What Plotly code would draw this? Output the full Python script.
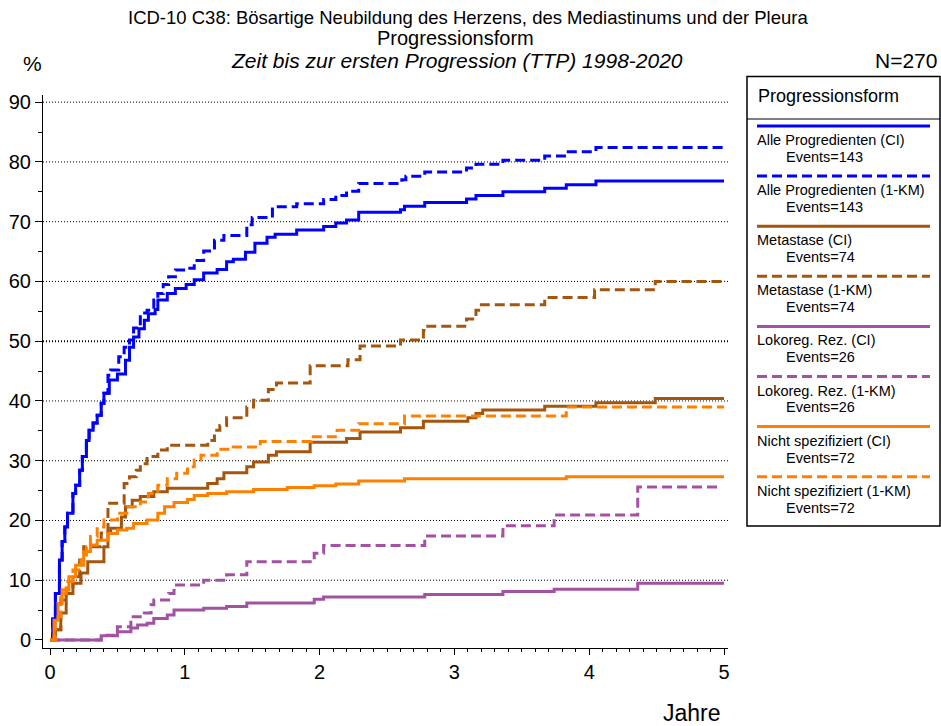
import plotly.graph_objects as go

# ---------------- data ----------------
all_ci_t = [0, 0.02, 0.04, 0.07, 0.09, 0.11, 0.13, 0.17, 0.19, 0.22, 0.24, 0.27, 0.29, 0.32, 0.35, 0.38,
            0.40, 0.44, 0.50, 0.56, 0.59, 0.62, 0.66, 0.70, 0.73, 0.78, 0.80, 0.87, 0.93, 1.01, 1.07, 1.14,
            1.24, 1.31, 1.36, 1.45, 1.52, 1.61, 1.67, 1.83, 2.03, 2.12, 2.20, 2.29, 2.60, 2.63, 2.78, 3.09,
            3.16, 3.36, 3.67, 3.83, 4.05, 5.0]
all_ci_y = [0, 3.5, 7.8, 13.4, 16.5, 18.9, 21.2, 24.5, 25.9, 28.4, 30.7, 33.4, 35.1, 36.3, 37.6, 39.6,
            41.3, 43.5, 44.5, 46.8, 49.0, 50.7, 52.1, 53.5, 54.6, 55.3, 56.9, 58.0, 58.8, 59.5, 60.3, 61.4,
            62.0, 63.3, 63.7, 64.9, 66.4, 67.4, 67.9, 68.6, 69.2, 69.8, 70.3, 71.6, 72.0, 72.6, 73.2, 73.8,
            74.4, 75.0, 75.6, 76.2, 76.8, 76.8]

all_km_t = [0, 0.02, 0.04, 0.07, 0.09, 0.11, 0.13, 0.17, 0.19, 0.22, 0.24, 0.27, 0.29, 0.32, 0.35, 0.38,
            0.40, 0.43, 0.45, 0.51, 0.55, 0.59, 0.62, 0.67, 0.72, 0.77, 0.80, 0.84, 0.88, 0.93, 1.01, 1.07,
            1.14, 1.22, 1.29, 1.46, 1.50, 1.65, 1.83, 2.03, 2.12, 2.20, 2.29, 2.61, 2.64, 2.78, 3.09, 3.16,
            3.36, 3.67, 3.83, 4.05, 5.0]
all_km_y = [0, 3.5, 7.8, 13.4, 16.5, 18.9, 21.2, 24.5, 25.9, 28.4, 30.7, 33.4, 35.1, 36.3, 37.6, 39.6,
            41.3, 44.3, 45.2, 47.4, 49.0, 50.2, 52.2, 54.7, 55.2, 56.9, 58.0, 59.5, 60.8, 61.9, 62.2, 63.5,
            65.1, 66.9, 67.7, 69.5, 70.7, 72.5, 73.0, 73.7, 74.4, 75.1, 76.4, 77.0, 77.6, 78.3, 79.0, 79.6,
            80.3, 81.0, 81.7, 82.4, 82.4]

met_ci_t = [0, 0.04, 0.08, 0.12, 0.17, 0.23, 0.28, 0.40, 0.43, 0.45, 0.53, 0.56, 0.61, 0.67, 0.77, 0.87,
            1.17, 1.24, 1.29, 1.46, 1.51, 1.62, 1.68, 1.93, 2.20, 2.30, 2.60, 2.77, 3.10, 3.16, 3.21, 3.67,
            4.05, 4.49, 5.0]
met_ci_y = [0, 1.7, 4.5, 7.8, 9.5, 11.2, 13.1, 15.6, 17.8, 18.7, 20.6, 22.3, 23.4, 24.0, 24.8, 25.4,
            26.2, 27.0, 28.0, 29.0, 29.8, 30.9, 31.5, 33.1, 33.7, 34.8, 35.5, 36.6, 37.2, 37.9, 38.5, 39.1,
            39.7, 40.4, 40.4]

met_km_t = [0, 0.03, 0.08, 0.12, 0.17, 0.22, 0.25, 0.38, 0.43, 0.55, 0.59, 0.64, 0.67, 0.72, 0.80, 0.87,
            1.17, 1.22, 1.26, 1.31, 1.46, 1.51, 1.62, 1.68, 1.93, 2.21, 2.30, 2.60, 2.77, 2.79, 3.09, 3.16,
            3.20, 3.67, 4.04, 4.49, 5.0]
met_km_y = [0, 1.7, 6.7, 8.4, 10.6, 13.4, 15.6, 17.9, 22.9, 26.2, 27.3, 28.4, 29.5, 30.7, 31.8, 32.6,
            33.4, 35.1, 35.9, 37.2, 39.0, 40.1, 41.9, 43.0, 45.9, 46.9, 49.2, 50.2, 51.8, 52.5, 53.7, 55.2,
            56.1, 57.3, 58.6, 60.0, 60.0]

lok_ci_t = [0, 0.38, 0.50, 0.60, 0.65, 0.72, 0.77, 0.87, 0.92, 1.14, 1.31, 1.46, 1.96, 2.03, 2.78, 3.36,
            3.74, 4.36, 5.0]
lok_ci_y = [0, 0.7, 1.4, 2.0, 2.5, 2.8, 3.6, 4.2, 5.0, 5.3, 5.6, 6.2, 6.8, 7.2, 7.6, 8.1,
            8.5, 9.5, 9.5]

lok_km_t = [0, 0.38, 0.50, 0.60, 0.70, 0.75, 0.77, 0.88, 0.92, 1.14, 1.31, 1.46, 1.96, 2.03, 2.78, 3.36,
            3.74, 4.36, 4.96]
lok_km_y = [0, 0.8, 2.2, 3.9, 4.5, 5.9, 6.7, 7.8, 9.2, 10.0, 10.9, 13.1, 14.5, 15.8, 17.4, 19.1,
            20.9, 25.6, 25.6]

ns_ci_t = [0, 0.03, 0.06, 0.09, 0.14, 0.19, 0.25, 0.30, 0.35, 0.43, 0.50, 0.57, 0.62, 0.72, 0.80, 0.85,
           0.92, 1.02, 1.07, 1.17, 1.31, 1.51, 1.76, 1.96, 2.12, 2.29, 2.63, 3.83, 5.0]
ns_ci_y = [0, 3.3, 6.1, 8.4, 10.6, 12.5, 14.8, 15.9, 16.7, 17.8, 18.4, 18.7, 19.5, 20.1, 21.2, 22.3,
           23.0, 23.5, 24.2, 24.5, 24.8, 25.2, 25.5, 25.8, 26.1, 26.6, 27.0, 27.3, 27.3]

ns_km_t = [0, 0.04, 0.08, 0.12, 0.17, 0.23, 0.27, 0.30, 0.35, 0.40, 0.50, 0.57, 0.67, 0.73, 0.80, 0.87,
           0.94, 1.02, 1.07, 1.12, 1.24, 1.36, 1.56, 1.94, 2.13, 2.29, 2.63, 3.83, 5.0]
ns_km_y = [0, 3.9, 7.8, 9.8, 11.7, 13.4, 15.6, 17.3, 18.9, 20.1, 21.2, 22.3, 23.1, 24.5, 25.9, 27.0,
           27.9, 29.0, 30.1, 30.9, 31.9, 32.3, 33.2, 34.0, 35.1, 36.2, 37.5, 39.0, 39.0]

series_names = ["Alle Progredienten (CI)", "Alle Progredienten (1-KM)", "Metastase (CI)", "Metastase (1-KM)",
                "Lokoreg. Rez. (CI)", "Lokoreg. Rez. (1-KM)", "Nicht spezifiziert (CI)",
                "Nicht spezifiziert (1-KM)"]
series_events = [143, 143, 74, 74, 26, 26, 72, 72]

x_ticks = [0, 1, 2, 3, 4, 5]
y_ticks = [0, 10, 20, 30, 40, 50, 60, 70, 80, 90]
grid_levels = [10, 20, 30, 40, 50, 60, 70, 80, 90]

title_lines = ["ICD-10 C38: Bösartige Neubildung des Herzens, des Mediastinums und der Pleura",
               "Progressionsform",
               "<i>Zeit bis zur ersten Progression (TTP) 1998-2020</i>"]
n_text = "N=270"

# ---------------- styling ----------------
BLUE = "#0000FF"
BROWN = "#A5560E"
PURPLE = "#A352A3"
ORANGE = "#FF8000"
colors = [BLUE, BLUE, BROWN, BROWN, PURPLE, PURPLE, ORANGE, ORANGE]
dashes = ["solid", "10px,5px"] * 4
FONT = "Liberation Sans, Arial, sans-serif"

W, H = 941, 726
L, R, T, B = 43, 728, 95, 648  # plot area in pixels


def px(x):
    return (x - L) / (R - L)


def py(y):
    return (B - y) / (B - T)


xs = [all_ci_t, all_km_t, met_ci_t, met_km_t, lok_ci_t, lok_km_t, ns_ci_t, ns_km_t]
ys = [all_ci_y, all_km_y, met_ci_y, met_km_y, lok_ci_y, lok_km_y, ns_ci_y, ns_km_y]

fig = go.Figure()
for i in range(8):
    fig.add_trace(go.Scatter(x=xs[i], y=ys[i], mode="lines", line_shape="hv", name=series_names[i],
                             line=dict(color=colors[i], width=3, dash=dashes[i]), showlegend=False))

for g in grid_levels:
    fig.add_hline(y=g, line=dict(color="black", width=2 if g == 50 else 1, dash="1px,2px"), layer="below")

x0 = 0 - 7 / 134.8
x1 = 5 + 4 / 134.8
fig.update_xaxes(range=[x0, x1], tickvals=x_ticks, ticktext=[str(v) for v in x_ticks],
                 showline=True, linecolor="black", linewidth=1, ticks="outside", ticklen=6,
                 tickcolor="black", showgrid=False, zeroline=False, automargin=False,
                 tickfont=dict(family=FONT, size=20, color="black"),
                 minor=dict(ticks="outside", dtick=0.1, tick0=0, ticklen=3, tickcolor="black", showgrid=False))
fig.update_yaxes(range=[-1.34, 91.2], tickvals=y_ticks, ticktext=[str(v) for v in y_ticks],
                 showline=True, linecolor="black", linewidth=1, ticks="outside", ticklen=7,
                 tickcolor="black", showgrid=False, zeroline=False, automargin=False,
                 tickfont=dict(family=FONT, size=20, color="black"),
                 minor=dict(ticks="outside", dtick=5, tick0=0, ticklen=4, tickcolor="black", showgrid=False))


def note(text, x, y, size, xanchor="center"):
    fig.add_annotation(text=text, x=px(x), y=py(y), xref="paper", yref="paper", showarrow=False,
                       xanchor=xanchor, yanchor="middle", borderpad=0,
                       font=dict(family=FONT, size=size, color="black"))


note(title_lines[0], 468, 17, 18.5)
note(title_lines[1], 456, 38, 20)
note(title_lines[2], 457, 60, 21)
note("%", 32, 63, 21)
note(n_text, 938, 60, 21, xanchor="right")
note("Jahre", 692, 713, 23)

# custom legend box
fig.add_shape(type="rect", xref="paper", yref="paper", x0=px(747), x1=px(940), y0=py(526), y1=py(76.5),
              line=dict(color="black", width=1.5), fillcolor="rgba(0,0,0,0)")
fig.add_shape(type="line", xref="paper", yref="paper", x0=px(747), x1=px(940), y0=py(119), y1=py(119),
              line=dict(color="black", width=1))
note("Progressionsform", 757, 96, 18, xanchor="left")
for i in range(8):
    ly = 126 + 50.1 * i
    fig.add_shape(type="line", xref="paper", yref="paper", x0=px(757), x1=px(930), y0=py(ly), y1=py(ly),
                  line=dict(color=colors[i], width=3, dash=dashes[i]))
    note(series_names[i], 756, ly + 14, 14.5, xanchor="left")
    note("Events=%d" % series_events[i], 785, ly + 31, 14.5, xanchor="left")

fig.update_layout(width=W, height=H, margin=dict(l=L, r=W - R, t=T, b=H - B, pad=0, autoexpand=False),
                  paper_bgcolor="white", plot_bgcolor="white",
                  font=dict(family=FONT, color="black"))

fig.write_html("out.html", config={"displayModeBar": False},
               post_script="document.body.style.margin='0';")
